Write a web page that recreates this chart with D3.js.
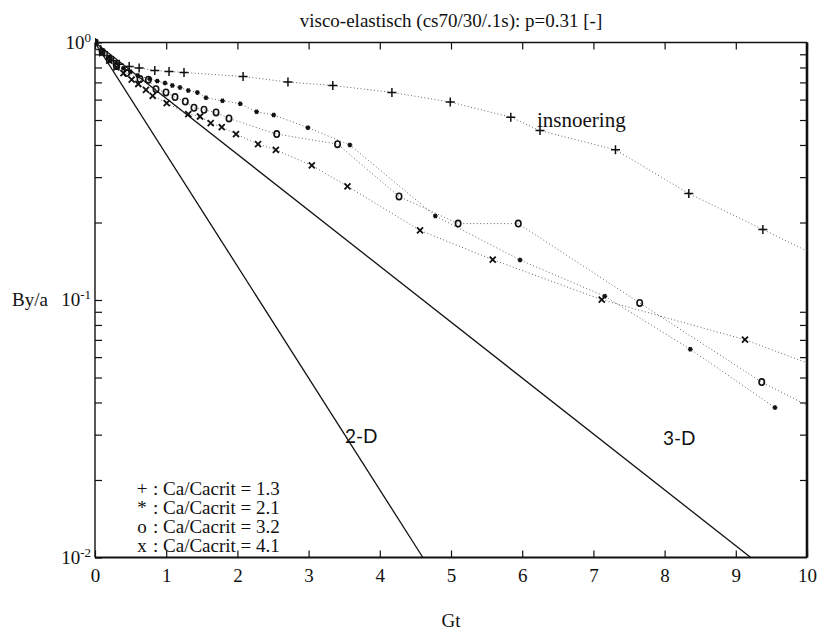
<!DOCTYPE html>
<html>
<head>
<meta charset="utf-8">
<script src="https://cdn.jsdelivr.net/npm/d3@7"></script>
<style>
  body { margin: 0; background: #fff; }
  text { fill: #111; }
</style>
</head>
<body>
<svg id="chart" width="820" height="632"></svg>
<script>
// ---- data -------------------------------------------------------------
const xTickValues = [0, 1, 2, 3, 4, 5, 6, 7, 8, 9, 10];
const yDecades = [1, 0.1, 0.01];
const yExponents = ["0", "-1", "-2"];

// Ca/Cacrit = 1.3  (+)
const plusT = [0, 0.08, 0.17, 0.26, 0.34, 0.48, 0.62, 0.84, 1.04, 1.25, 2.08, 2.71, 3.34, 4.17, 4.99, 5.84, 6.25, 7.31, 8.34, 9.38];
const plusV = [1, 0.94, 0.89, 0.85, 0.824, 0.807, 0.796, 0.779, 0.772, 0.765, 0.738, 0.702, 0.681, 0.640, 0.587, 0.513, 0.455, 0.383, 0.259, 0.188];
const plusTail = 0.155;

// Ca/Cacrit = 2.1  (*)
const starT = [0, 0.1, 0.2, 0.3, 0.4, 0.5, 0.6, 0.77, 0.875, 0.983, 1.086, 1.194, 1.31, 1.437, 1.559, 1.79, 2.04, 2.27, 2.51, 2.99, 3.58, 4.78, 5.97, 7.16, 8.36, 9.55];
const starV = [1, 0.93, 0.87, 0.83, 0.795, 0.77, 0.745, 0.721, 0.708, 0.696, 0.681, 0.669, 0.651, 0.640, 0.610, 0.594, 0.578, 0.538, 0.523, 0.467, 0.400, 0.212, 0.143, 0.1034, 0.0644, 0.0382];
const starTail = null;

// Ca/Cacrit = 3.2  (o)
const oT = [0, 0.1, 0.2, 0.3, 0.445, 0.632, 0.749, 0.857, 0.997, 1.124, 1.268, 1.39, 1.531, 1.70, 1.882, 2.552, 3.406, 4.27, 5.10, 5.945, 7.65, 9.364];
const oV = [1, 0.92, 0.86, 0.81, 0.761, 0.721, 0.717, 0.659, 0.640, 0.614, 0.590, 0.558, 0.548, 0.535, 0.507, 0.441, 0.403, 0.2524, 0.198, 0.198, 0.0974, 0.048];
const oTail = 0.039;

// Ca/Cacrit = 4.1  (x)
const xT = [0, 0.1, 0.2, 0.3, 0.4, 0.515, 0.608, 0.716, 0.81, 1.007, 1.31, 1.475, 1.625, 1.78, 1.98, 2.29, 2.54, 3.045, 3.546, 4.565, 5.586, 7.117, 9.129];
const xV = [1, 0.91, 0.85, 0.8, 0.76, 0.717, 0.690, 0.655, 0.621, 0.582, 0.527, 0.516, 0.486, 0.469, 0.441, 0.403, 0.383, 0.333, 0.2765, 0.1863, 0.1434, 0.1003, 0.0701];
const xTail = 0.057;

// theoretical decay curves (straight on the log axis)
const twoDT = [0, 4.605], twoDV = [1, 0.01];
const threeDT = [0, 9.21], threeDV = [1, 0.01];

const legendSymbols = ["+", "*", "o", "x"];
const legendLabels = [": Ca/Cacrit = 1.3", ": Ca/Cacrit = 2.1", ": Ca/Cacrit = 3.2", ": Ca/Cacrit = 4.1"];

// ---- layout -----------------------------------------------------------
const svg = d3.select("#chart");
const L = 95, R = 807, T = 42.5, B = 557.5;
const serif = "'Liberation Serif', 'Times New Roman', serif";

const x = d3.scaleLinear().domain([0, 10]).range([L, R]);
const y = d3.scaleLog().domain([0.01, 1]).range([B, T]);

const zip = (ts, vs) => ts.map((t, i) => ({ t, v: vs[i] }));

svg.append("clipPath").attr("id", "plotClip")
  .append("rect").attr("x", L).attr("y", T - 6).attr("width", R - L).attr("height", B - T + 6);

// title
svg.append("text")
  .attr("x", 451).attr("y", 27)
  .attr("text-anchor", "middle")
  .style("font-family", serif).style("font-size", "19px")
  .text("visco-elastisch (cs70/30/.1s):  p=0.31 [-]");

// axis titles
svg.append("text").attr("x", 30).attr("y", 306).attr("text-anchor", "middle")
  .style("font-family", serif).style("font-size", "19px").text("By/a");
svg.append("text").attr("x", 451).attr("y", 627).attr("text-anchor", "middle")
  .style("font-family", serif).style("font-size", "19px").text("Gt");

// ---- axes (ticks point inward) ----------------------------------------
const tickLen = 7;
const bottomAxis = d3.axisBottom(x).tickValues(xTickValues).tickSizeInner(-tickLen).tickSizeOuter(0).tickPadding(11).tickFormat(d3.format("d"));
const topAxis = d3.axisTop(x).tickValues(xTickValues).tickSizeInner(-tickLen).tickSizeOuter(0).tickFormat("");
const yMinor = y.ticks().filter(v => yDecades.indexOf(v) < 0);
const leftAxis = d3.axisLeft(y).tickValues(y.ticks()).tickSizeInner(-tickLen).tickSizeOuter(0).tickFormat("");
const rightAxis = d3.axisRight(y).tickValues(yMinor).tickSizeInner(-tickLen).tickSizeOuter(0).tickFormat("");

const gB = svg.append("g").attr("transform", `translate(0,${B})`).call(bottomAxis);
gB.selectAll("text").style("font-family", serif).style("font-size", "19px").attr("fill", "#111");
svg.append("g").attr("transform", `translate(0,${T})`).call(topAxis);
svg.append("g").attr("transform", `translate(${L},0)`).call(leftAxis);
svg.append("g").attr("transform", `translate(${R},0)`).call(rightAxis);
svg.selectAll(".domain").remove();
svg.selectAll(".tick line").attr("stroke", "#111").attr("stroke-width", 1.2);

// y decade labels 10^n
yDecades.forEach((v, i) => {
  const t = svg.append("text")
    .attr("x", 91).attr("y", y(v) + 6)
    .attr("text-anchor", "end")
    .style("font-family", serif).style("font-size", "19px");
  t.append("tspan").text("10");
  t.append("tspan").attr("dy", -7).style("font-size", "13px").text(yExponents[i]);
});

// plot frame
const frame = svg.append("g").attr("stroke", "#111").attr("fill", "none");
frame.append("line").attr("x1", L).attr("x2", R).attr("y1", T).attr("y2", T).attr("stroke-width", 1.4);
frame.append("line").attr("x1", L).attr("x2", L).attr("y1", T).attr("y2", B).attr("stroke-width", 1.4);
frame.append("line").attr("x1", L).attr("x2", R).attr("y1", B).attr("y2", B).attr("stroke-width", 2);
frame.append("line").attr("x1", R).attr("x2", R).attr("y1", T).attr("y2", B).attr("stroke-width", 2.6);

// ---- theory lines -----------------------------------------------------
const line = d3.line().x(d => x(d.t)).y(d => y(d.v));
const plot = svg.append("g").attr("clip-path", "url(#plotClip)");
[zip(twoDT, twoDV), zip(threeDT, threeDV)].forEach(pts => {
  plot.append("path").attr("d", line(pts)).attr("fill", "none")
    .attr("stroke", "#111").attr("stroke-width", 1.3);
});

// ---- measured series --------------------------------------------------
const series = [
  { T: plusT, V: plusV, tail: plusTail, marker: "plus" },
  { T: starT, V: starV, tail: starTail, marker: "star" },
  { T: oT, V: oV, tail: oTail, marker: "circle" },
  { T: xT, V: xV, tail: xTail, marker: "cross" }
];

const markerPath = {
  plus: "M-4.5,0H4.5M0,-4.5V4.5",
  cross: "M-3,-3L3,3M-3,3L3,-3",
  star: "M-2.4,0H2.4M-1.2,-2.1L1.2,2.1M-1.2,2.1L1.2,-2.1"
};

series.forEach(s => {
  const pts = zip(s.T, s.V);
  const linePts = s.tail == null ? pts : pts.concat([{ t: 10, v: s.tail }]);
  plot.append("path").attr("d", line(linePts)).attr("fill", "none")
    .attr("stroke", "#666").attr("stroke-width", 1)
    .attr("stroke-dasharray", "1 2.4");

  const g = plot.append("g");
  pts.forEach(p => {
    const cx = x(p.t), cy = y(p.v);
    if (s.marker === "circle") {
      g.append("ellipse").attr("cx", cx).attr("cy", cy).attr("rx", 2.7).attr("ry", 3.2)
        .attr("fill", "none").attr("stroke", "#111").attr("stroke-width", 1.6);
    } else if (s.marker === "star") {
      g.append("path").attr("transform", `translate(${cx},${cy})`).attr("d", markerPath.star)
        .attr("stroke", "#111").attr("stroke-width", 1.6);
      g.append("circle").attr("cx", cx).attr("cy", cy).attr("r", 1.6).attr("fill", "#111");
    } else {
      g.append("path").attr("transform", `translate(${cx},${cy})`).attr("d", markerPath[s.marker])
        .attr("stroke", "#111").attr("stroke-width", s.marker === "cross" ? 1.8 : 1.5).attr("fill", "none");
    }
  });
});

// ---- annotations -----------------------------------------------------
svg.append("text").attr("x", 537).attr("y", 127)
  .style("font-family", serif).style("font-size", "21px").text("insnoering");
svg.append("text").attr("x", 345).attr("y", 443)
  .style("font-family", "Lato, 'Open Sans', sans-serif").style("font-size", "19px").text("2-D");
svg.append("text").attr("x", 663).attr("y", 445)
  .style("font-family", "Lato, 'Open Sans', sans-serif").style("font-size", "19px").text("3-D");

// ---- legend -----------------------------------------------------------
legendSymbols.forEach((sym, i) => {
  const by = 494.5 + i * 19.2;
  svg.append("text").attr("x", 142).attr("y", by).attr("text-anchor", "middle")
    .style("font-family", serif).style("font-size", "19px").text(sym);
  svg.append("text").attr("x", 153).attr("y", by)
    .style("font-family", serif).style("font-size", "19px").text(legendLabels[i]);
});
</script>
</body>
</html>
